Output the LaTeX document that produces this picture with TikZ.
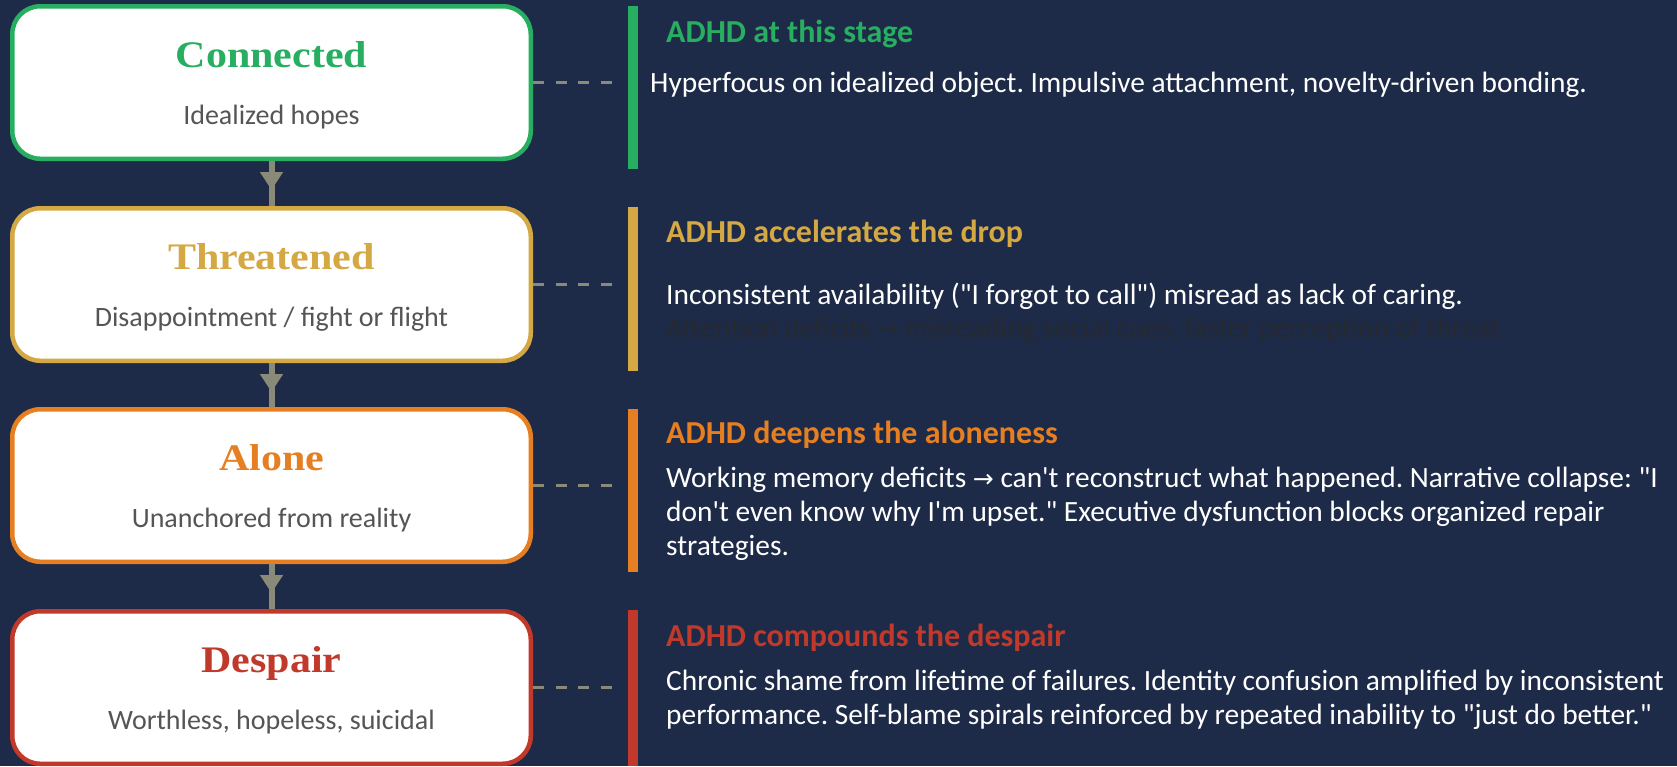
\documentclass[tikz,border=0pt]{standalone}
\usepackage{fontspec}
\setmainfont{Carlito}
\newfontfamily\bodyfont{Carlito}
\newfontfamily\titlefont[FakeStretch=1.12]{Liberation Serif}
\newfontfamily\symfont{DejaVu Sans}
\usetikzlibrary{arrows.meta,decorations.markings}
\definecolor{bg}{HTML}{1E2B48}
\definecolor{cgreen}{HTML}{27AE60}
\definecolor{cyellow}{HTML}{D4A843}
\definecolor{corange}{HTML}{E67E22}
\definecolor{cred}{HTML}{C0392B}
\definecolor{subgray}{HTML}{555555}
\definecolor{flowgray}{HTML}{8A8A78}
\definecolor{hiddentext}{HTML}{262A30}
\newcommand{\rarr}{{\symfont\fontsize{25}{34}\selectfont →}}
\frenchspacing
\begin{document}
\begin{tikzpicture}[x=1pt,y=-1pt,
  stagebox/.style={draw, fill=white, line width=4.5pt, rounded corners=28pt,
    minimum width=518.5pt, minimum height=152.5pt, inner sep=0pt},
  stagetitle/.style={anchor=base, inner sep=0pt, font=\titlefont\bfseries\fontsize{37.5}{40}\selectfont},
  stagesub/.style={anchor=base, inner sep=0pt, text=subgray, font=\bodyfont\fontsize{28}{34}\selectfont},
  head/.style={anchor=base west, inner sep=0pt, font=\bodyfont\bfseries\fontsize{32}{34}\selectfont},
  body/.style={anchor=base west, inner sep=0pt, text=white, font=\bodyfont\fontsize{29.4}{34}\selectfont},
  flow/.style={draw=flowgray, line width=6pt, postaction={decorate},
    decoration={markings, mark=at position 29pt with {\arrow{Triangle[width=22pt,length=18pt]}}}},
  dashline/.style={draw=flowgray, line width=3pt, dash pattern=on 11pt off 11.5pt},
]
\fill[bg] (0,0) rectangle (1677,766);
\useasboundingbox (0,0) rectangle (1677,766);

% stage boxes
\node[stagebox, draw=cgreen]  (b1) at (271.5,82.5) {};
\node[stagebox, draw=cyellow] (b2) at (271.5,284.5) {};
\node[stagebox, draw=corange] (b3) at (271.5,485.5) {};
\node[stagebox, draw=cred]    (b4) at (271.5,687.5) {};

\node[stagetitle, text=cgreen]  (t1) at (271.5,67) {Connected};
\node[stagesub] (s1) at (271.5,124) {Idealized hopes};
\node[stagetitle, text=cyellow] (t2) at (271.5,269) {Threatened};
\node[stagesub] (s2) at (271.5,326) {Disappointment / fight or flight};
\node[stagetitle, text=corange] (t3) at (271.5,470) {Alone};
\node[stagesub] (s3) at (271.5,527) {Unanchored from reality};
\node[stagetitle, text=cred]    (t4) at (271.5,672) {Despair};
\node[stagesub] (s4) at (271.5,729) {Worthless, hopeless, suicidal};

% connectors
\draw[flow] (b1.south) -- (b2.north);
\draw[flow] (b2.south) -- (b3.north);
\draw[flow] (b3.south) -- (b4.north);

% side bars
\fill[cgreen]  (628,6) rectangle (638,169);
\fill[cyellow] (628,207) rectangle (638,371);
\fill[corange] (628,409) rectangle (638,572);
\fill[cred]    (628,610) rectangle (638,766);

% dashed links
\coordinate (d1) at (616,82.5);
\coordinate (d2) at (616,284.5);
\coordinate (d3) at (616,485.5);
\coordinate (d4) at (616,687.5);
\draw[dashline] (b1) -- (d1);
\draw[dashline] (b2) -- (d2);
\draw[dashline] (b3) -- (d3);
\draw[dashline] (b4) -- (d4);

% right-hand texts
\node[head, text=cgreen] (h1) at (666,42) {ADHD at this stage};
\node[body] (p1a) at (650,92) {Hyperfocus on idealized object. Impulsive attachment, novelty-driven bonding.};

\node[head, text=cyellow] (h2) at (666,242) {ADHD accelerates the drop};
\node[body] (p2a) at (666,304) {Inconsistent availability ("I forgot to call") misread as lack of caring.};
\node[body, text=hiddentext] (p2b) at (666,337) {Attention deficits \rarr\ misreading social cues, faster perception of threat.};

\node[head, text=corange] (h3) at (666,443) {ADHD deepens the aloneness};
\node[body] (p3a) at (666,487) {Working memory deficits \rarr\ can't reconstruct what happened. Narrative collapse: "I};
\node[body] (p3b) at (666,521) {don't even know why I'm upset." Executive dysfunction blocks organized repair};
\node[body] (p3c) at (666,555) {strategies.};

\node[head, text=cred] (h4) at (666,646) {ADHD compounds the despair};
\node[body] (p4a) at (666,690) {Chronic shame from lifetime of failures. Identity confusion amplified by inconsistent};
\node[body] (p4b) at (666,724) {performance. Self-blame spirals reinforced by repeated inability to "just do better."};
\end{tikzpicture}
\end{document}
